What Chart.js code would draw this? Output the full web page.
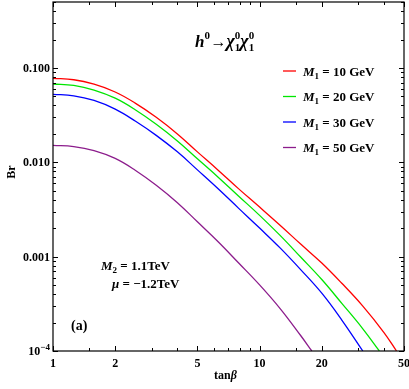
<!DOCTYPE html>
<html>
<head>
<meta charset="utf-8">
<script src="https://cdn.jsdelivr.net/npm/chart.js@4/dist/chart.umd.min.js"></script>
<style>
  html, body { margin: 0; padding: 0; background: #fff; }
  #wrap { width: 409px; height: 389px; position: relative; }
</style>
</head>
<body>
<div id="wrap"><canvas id="chart"></canvas></div>
<script>
// values (tan beta, Br)
const tanbRed = [1, 1.26, 1.58, 2, 2.5, 3.16, 4, 5, 6.3, 7.9, 10, 12.6, 15.8, 20, 25, 31.6, 40, 46];
const brRed = [0.0776, 0.075, 0.0672, 0.0556, 0.0424, 0.030, 0.020, 0.0129, 0.00825, 0.00526, 0.00335,
    0.00214, 0.00136, 0.000856, 0.000522, 0.000299, 0.000157, 0.0001];

const tanbGreen = [1, 1.26, 1.58, 2, 2.5, 3.16, 4, 5, 6.3, 7.9, 10, 12.6, 15.8, 20, 25, 31.6, 38];
const brGreen = [0.0676, 0.0653, 0.0583, 0.0478, 0.0361, 0.0253, 0.01685, 0.0109, 0.00696, 0.0044, 0.00274,
    0.00167, 0.000991, 0.000572, 0.00032, 0.000172, 0.0001];

const tanbBlue = [1, 1.26, 1.58, 2, 2.5, 3.16, 4, 5, 6.3, 7.9, 10, 12.6, 15.8, 20, 25, 31.6];
const brBlue = [0.0525, 0.0507, 0.0452, 0.0366, 0.0274, 0.0193, 0.0129, 0.00831, 0.00524, 0.00327, 0.00201,
    0.00123, 0.000729, 0.00041, 0.000213, 0.0001];

const tanbPurple = [1, 1.26, 1.58, 2, 2.5, 3.16, 4, 5, 6.3, 7.9, 10, 12.6, 15.8, 17.9];
const brPurple = [0.0151, 0.01467, 0.0133, 0.011, 0.00825, 0.00571, 0.00373, 0.00234, 0.00144, 0.000862,
    0.000502, 0.00028, 0.000146, 0.0001];

const seriesLabels = ['10 GeV', '20 GeV', '30 GeV', '50 GeV'];
const seriesColors = ['#ff0000', '#00e600', '#0000ff', '#8c1c8c'];

const xMajor = [1, 2, 5, 10, 20, 50];
const xMinor = [1.5, 3, 4, 6, 7, 8, 9, 15, 30, 40];
const yMajor = [0.0001, 0.001, 0.01, 0.1];
const yMajorLabels = ['10^-4', '0.001', '0.010', '0.100'];
const yMinor = [];
[0.0001, 0.001, 0.01, 0.1].forEach(d => {
    for (let k = 2; k <= 9; k++) if (d * k <= 0.5) yMinor.push(d * k);
});

const toPts = (xs, ys) => xs.map((x, i) => ({ x: x, y: ys[i] }));

const SERIF = '"Liberation Serif", "DejaVu Serif", serif';

// draws a run of text pieces: [text, style, size, dy]
function drawRun(ctx, x, y, parts) {
    parts.forEach(p => {
        ctx.font = (p[1] || 'bold') + ' ' + p[2] + 'px ' + SERIF;
        ctx.fillText(p[0], x, y + (p[3] || 0));
        x += ctx.measureText(p[0]).width;
    });
    return x;
}

// chi with stacked sub 1 / super 0
function drawChi(ctx, x, y) {
    x = drawRun(ctx, x, y, [['\u03c7', 'italic bold', 18]]);
    drawRun(ctx, x, y, [['0', 'bold', 11, -8]]);
    return drawRun(ctx, x, y, [['1', 'bold', 11, 4]]);
}

const framePlugin = {
    id: 'framePlugin',
    afterDraw(chart) {
        const { ctx, chartArea: a, scales: { x, y } } = chart;
        ctx.save();
        ctx.strokeStyle = '#000';
        ctx.fillStyle = '#000';
        ctx.lineWidth = 1.2;
        ctx.strokeRect(a.left, a.top, a.right - a.left, a.bottom - a.top);

        ctx.lineWidth = 1;
        ctx.beginPath();
        const xt = (v, len) => {
            const px = Math.round(x.getPixelForValue(v)) + 0.5;
            ctx.moveTo(px, a.bottom); ctx.lineTo(px, a.bottom - len);
            ctx.moveTo(px, a.top); ctx.lineTo(px, a.top + len);
        };
        const yt = (v, len) => {
            const py = Math.round(y.getPixelForValue(v)) + 0.5;
            ctx.moveTo(a.left, py); ctx.lineTo(a.left + len, py);
            ctx.moveTo(a.right, py); ctx.lineTo(a.right - len, py);
        };
        xMajor.forEach(v => xt(v, 5));
        xMinor.forEach(v => xt(v, 3));
        yMajor.forEach(v => yt(v, 5));
        yMinor.forEach(v => yt(v, 3));
        ctx.stroke();

        // tick labels
        ctx.font = 'bold 12px ' + SERIF;
        ctx.textAlign = 'center';
        ctx.textBaseline = 'alphabetic';
        xMajor.forEach(v => {
            ctx.fillText(String(v), x.getPixelForValue(v), a.bottom + 16);
        });
        ctx.textAlign = 'right';
        yMajor.forEach((v, i) => {
            const py = y.getPixelForValue(v) + 4;
            const lab = yMajorLabels[i];
            if (lab.indexOf('^') >= 0) {
                const [b, e] = lab.split('^');
                ctx.font = 'bold 9px ' + SERIF;
                const sup = '\u2212' + e.slice(1);
                const ew = ctx.measureText(sup).width;
                ctx.fillText(sup, a.left - 3, py - 5);
                ctx.font = 'bold 12px ' + SERIF;
                ctx.fillText(b, a.left - 3 - ew, py);
            } else {
                ctx.font = 'bold 12px ' + SERIF;
                ctx.fillText(lab, a.left - 3, py);
            }
        });

        // axis titles
        ctx.textAlign = 'left';
        ctx.save();
        ctx.translate(15, 172);
        ctx.rotate(-Math.PI / 2);
        ctx.font = 'bold 12px ' + SERIF;
        ctx.textAlign = 'center';
        ctx.fillText('Br', 0, 0);
        ctx.restore();
        drawRun(ctx, 214, 379, [['tan', 'bold', 12], ['\u03b2', 'italic bold', 12]]);

        // process title
        let cx = drawRun(ctx, 195, 47, [['h', 'italic bold', 17]]);
        drawRun(ctx, cx, 47, [['0', 'bold', 11, -8]]);
        cx += 6;
        cx = drawRun(ctx, cx, 47, [['\u2192', 'bold', 16]]);
        cx = drawChi(ctx, cx, 47);
        drawChi(ctx, cx, 47);

        // legend
        seriesLabels.forEach((lab, i) => {
            const ly = 71 + i * 25.5;
            ctx.strokeStyle = seriesColors[i];
            ctx.lineWidth = 1.3;
            ctx.beginPath();
            ctx.moveTo(283, ly); ctx.lineTo(296, ly);
            ctx.stroke();
            drawRun(ctx, 303, ly + 4.5, [
                ['M', 'italic bold', 13], ['1', 'bold', 9, 3], [' = ' + lab, 'bold', 13]
            ]);
        });

        // annotations
        drawRun(ctx, 101, 270, [['M', 'italic bold', 13], ['2', 'bold', 9, 3], [' = 1.1TeV', 'bold', 13]]);
        drawRun(ctx, 112, 288, [['\u03bc', 'italic bold', 13], [' = \u22121.2TeV', 'bold', 13]]);
        drawRun(ctx, 71, 330, [['(a)', 'bold', 14]]);
        ctx.restore();
    }
};

const makeSet = (pts, i) => ({
    data: pts,
    borderColor: seriesColors[i],
    borderWidth: 1.3,
    pointRadius: 0,
    fill: false,
    tension: 0.4
});

const ctx = document.getElementById('chart').getContext('2d');
new Chart(ctx, {
    type: 'line',
    data: {
        datasets: [
            makeSet(toPts(tanbRed, brRed), 0),
            makeSet(toPts(tanbGreen, brGreen), 1),
            makeSet(toPts(tanbBlue, brBlue), 2),
            makeSet(toPts(tanbPurple, brPurple), 3)
        ]
    },
    options: {
        responsive: true,
        maintainAspectRatio: false,
        animation: false,
        layout: { padding: { top: 2, right: 5, left: 0, bottom: 0 } },
        plugins: { legend: { display: false }, tooltip: { enabled: false } },
        scales: {
            x: {
                type: 'logarithmic',
                min: 1, max: 50,
                grid: { display: false },
                border: { display: false },
                ticks: { display: false },
                afterFit: s => { s.height = 38; }
            },
            y: {
                type: 'logarithmic',
                min: 0.0001, max: 0.5,
                grid: { display: false },
                border: { display: false },
                ticks: { display: false },
                afterFit: s => { s.width = 53; }
            }
        }
    },
    plugins: [framePlugin]
});
</script>
</body>
</html>
